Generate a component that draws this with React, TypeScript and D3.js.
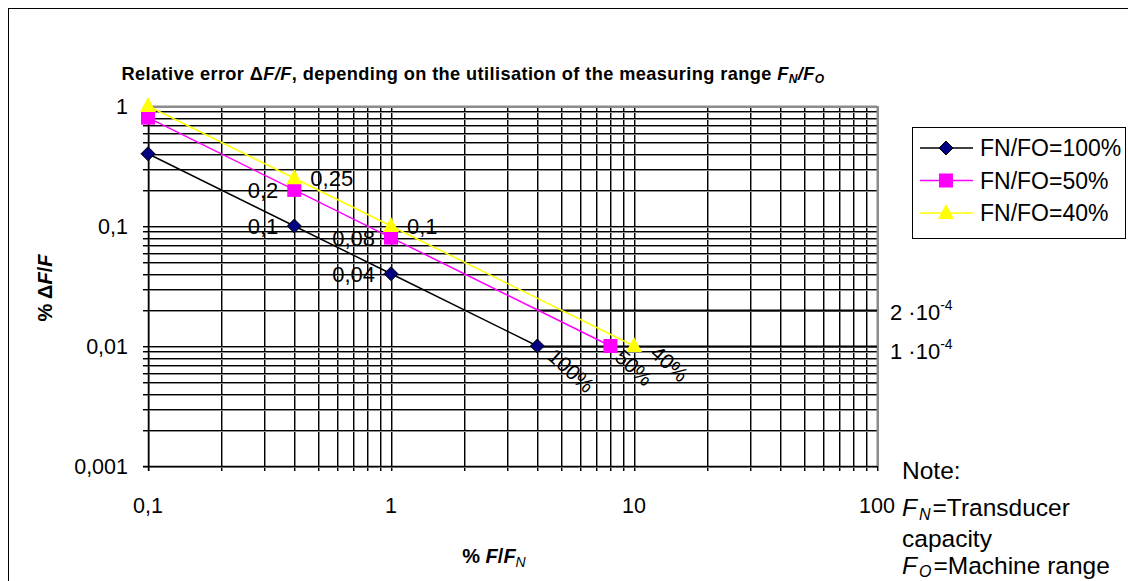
import * as d3 from 'd3';

const seriesNames = ['FN/FO=100%', 'FN/FO=50%', 'FN/FO=40%'];
const seriesX = [
  [0.1, 0.4, 1, 4],
  [0.1, 0.4, 1, 8],
  [0.1, 0.4, 1, 10],
];
const seriesY = [
  [0.4, 0.1, 0.04, 0.01],
  [0.8, 0.2, 0.08, 0.01],
  [1, 0.25, 0.1, 0.01],
];
const seriesEndLabels = ['100%', '50%', '40%'];

// point labels: [series, point, text, side]
const pointLabels: [number, number, string, 'left' | 'right'][] = [
  [1, 1, '0,2', 'left'],
  [2, 1, '0,25', 'right'],
  [0, 1, '0,1', 'left'],
  [1, 2, '0,08', 'left'],
  [2, 2, '0,1', 'right'],
  [0, 2, '0,04', 'left'],
];

const limitValues = [0.02, 0.01];
const limitMantissa = ['2', '1'];
const limitStart = 4;

const xTickValues = [0.1, 1, 10, 100];
const xTickLabels = ['0,1', '1', '10', '100'];
const yTickValues = [0.001, 0.01, 0.1, 1];
const yTickLabels = ['0,001', '0,01', '0,1', '1'];

const FONT = '"Liberation Sans", Arial, sans-serif';
const colors = ['#000000', '#FF00FF', '#FFFF00'];
const markerFill = ['#000080', '#FF00FF', '#FFFF00'];
// nudges for the rotated end labels (dx, dy from the last point)
const endNudge = [[9, 12], [3, 13], [15, 9]];

function gridValues(lo: number, hi: number) {
  const out: number[] = [];
  for (let d = lo; d < hi * 0.999; d *= 10) {
    for (let k = 1; k <= 9; k++) out.push(+(k * d).toPrecision(3));
  }
  out.push(hi);
  return out;
}

function Marker({ i, x, y }: { i: number; x: number; y: number }) {
  if (i === 0) {
    const s = 7;
    return <path d={`M${x},${y - s}L${x + s},${y}L${x},${y + s}L${x - s},${y}Z`} fill={markerFill[0]} stroke="#000" strokeWidth={1} />;
  }
  if (i === 1) {
    return <rect x={x - 7} y={y - 7} width={14} height={14} fill={markerFill[1]} />;
  }
  return <path d={`M${x},${y - 9}L${x + 8},${y + 6}L${x - 8},${y + 6}Z`} fill={markerFill[2]} />;
}

export default function App() {
  const x = d3.scaleLog().domain([0.1, 100]).range([148, 877]);
  const y = d3.scaleLog().domain([0.001, 1]).range([466, 106]);
  const xs = gridValues(0.1, 100);
  const ys = gridValues(0.001, 1);
  const line = d3.line<[number, number]>().x((d) => x(d[0])).y((d) => y(d[1]));

  const [x0, x1] = x.range();
  const [y0, y1] = y.range();

  return (
    <svg width={1128} height={581} style={{ position: 'fixed', left: 0, top: 0, background: '#fff' }} fontFamily={FONT}>
      <rect x={8.5} y={8.5} width={1200} height={700} fill="none" stroke="#000" strokeWidth={1} />

      <text x={473} y={80} textAnchor="middle" fontSize={18.2} fontWeight="bold" letterSpacing={0.4}>
        Relative error <tspan>Δ</tspan>
        <tspan fontStyle="italic">F/F</tspan>, depending on the utilisation of the measuring range{' '}
        <tspan fontStyle="italic">F</tspan>
        <tspan fontStyle="italic" fontSize={12} dy={3}>N</tspan>
        <tspan fontStyle="italic" dy={-3}>/F</tspan>
        <tspan fontStyle="italic" fontSize={12} dy={3}>O</tspan>
      </text>

      {/* grid */}
      {xs.map((v) => {
        const px = Math.round(x(v)) + 0.5;
        return (
          <g key={'gx' + v}>
            <line x1={px + 1} x2={px + 1} y1={y1} y2={y0 + 5} stroke="#8c8c8c" />
            <line x1={px} x2={px} y1={y1} y2={y0 + 5} stroke="#000" />
          </g>
        );
      })}
      {ys.map((v) => {
        const py = Math.round(y(v)) + 0.5;
        return (
          <g key={'gy' + v}>
            <line x1={x0 - 5} x2={x1} y1={py + 1} y2={py + 1} stroke="#8c8c8c" />
            <line x1={x0 - 5} x2={x1} y1={py} y2={py} stroke="#000" />
          </g>
        );
      })}
      <line x1={Math.round(x1) + 0.5} x2={Math.round(x1) + 0.5} y1={y1} y2={y0} stroke="#8c8c8c" strokeWidth={2} />
      <line x1={x0} x2={x1} y1={Math.round(y1) + 0.5} y2={Math.round(y1) + 0.5} stroke="#8c8c8c" strokeWidth={2} />
      <line x1={Math.round(x0) + 0.5} x2={Math.round(x0) + 0.5} y1={y1} y2={y0 + 5} stroke="#000" strokeWidth={1.5} />
      <line x1={x0 - 5} x2={x1} y1={Math.round(y0) + 0.5} y2={Math.round(y0) + 0.5} stroke="#000" strokeWidth={1.5} />

      {/* limit lines */}
      {limitValues.map((v, i) => (
        <g key={'lim' + i}>
          <line x1={x(limitStart)} x2={x1} y1={Math.round(y(v)) + 0.5} y2={Math.round(y(v)) + 0.5} stroke="#000" strokeWidth={2} />
          <text x={890} y={y(v) + 10 + (i === 1 ? 3 : 0)} fontSize={22}>
            {limitMantissa[i]} ·10<tspan fontSize={14} dy={-10}>-4</tspan>
          </text>
        </g>
      ))}

      {/* axis labels */}
      {xTickValues.map((v, i) => (
        <text key={'xt' + v} x={x(v)} y={513} textAnchor="middle" fontSize={21.5}>{xTickLabels[i]}</text>
      ))}
      {yTickValues.map((v, i) => (
        <text key={'yt' + v} x={128} y={y(v) + 7.5} textAnchor="end" fontSize={21.5}>{yTickLabels[i]}</text>
      ))}
      <text x={494} y={563} textAnchor="middle" fontSize={20} fontWeight="bold">
        % <tspan fontStyle="italic">F</tspan>/<tspan fontStyle="italic">F</tspan>
        <tspan fontStyle="italic" fontWeight="normal" fontSize={14} dy={4}>N</tspan>
      </text>
      <text transform="translate(52,288) rotate(-90)" textAnchor="middle" fontSize={20} fontWeight="bold">
        % Δ<tspan fontStyle="italic">F</tspan>/<tspan fontStyle="italic">F</tspan>
      </text>

      {/* series */}
      {seriesX.map((xv, i) => (
        <path key={'ln' + i} d={line(xv.map((v, j) => [v, seriesY[i][j]])) || ''} fill="none" stroke={colors[i]} strokeWidth={1.5} />
      ))}
      {seriesX.map((xv, i) =>
        xv.map((v, j) => <Marker key={`m${i}-${j}`} i={i} x={x(v)} y={y(seriesY[i][j])} />)
      )}

      {pointLabels.map(([s, p, t, side], k) => {
        const px = x(seriesX[s][p]);
        const py = y(seriesY[s][p]);
        return (
          <text key={'pl' + k} x={side === 'left' ? px - 16 : px + 16} y={py + 8} textAnchor={side === 'left' ? 'end' : 'start'} fontSize={22}>
            {t}
          </text>
        );
      })}
      {seriesEndLabels.map((t, i) => {
        const n = seriesX[i].length - 1;
        const px = x(seriesX[i][n]) + endNudge[i][0];
        const py = y(seriesY[i][n]) + endNudge[i][1];
        return (
          <text key={'el' + i} transform={`translate(${px},${py}) rotate(42)`} fontSize={21}>{t}</text>
        );
      })}

      {/* legend */}
      <rect x={912.5} y={127.5} width={213} height={111} fill="#fff" stroke="#000" />
      {seriesNames.map((name, i) => {
        const ly = 148 + i * 32.5;
        return (
          <g key={'lg' + i}>
            <line x1={920} x2={973} y1={ly} y2={ly} stroke={colors[i]} strokeWidth={1.5} />
            <Marker i={i} x={946} y={ly} />
            <text x={980} y={ly + 8} fontSize={23}>{name}</text>
          </g>
        );
      })}

      {/* note */}
      <g fontSize={24.5}>
        <text x={902} y={479}>Note:</text>
        <text x={902} y={516}>
          <tspan fontStyle="italic">F</tspan>
          <tspan fontStyle="italic" fontSize={16} dx={2} dy={4}>N</tspan>
          <tspan dx={2} dy={-4}>=Transducer</tspan>
        </text>
        <text x={902} y={547}>capacity</text>
        <text x={902} y={574}>
          <tspan fontStyle="italic">F</tspan>
          <tspan fontStyle="italic" fontSize={16} dx={2} dy={3}>O</tspan>
          <tspan dx={2} dy={-3}>=Machine range</tspan>
        </text>
      </g>
    </svg>
  );
}
